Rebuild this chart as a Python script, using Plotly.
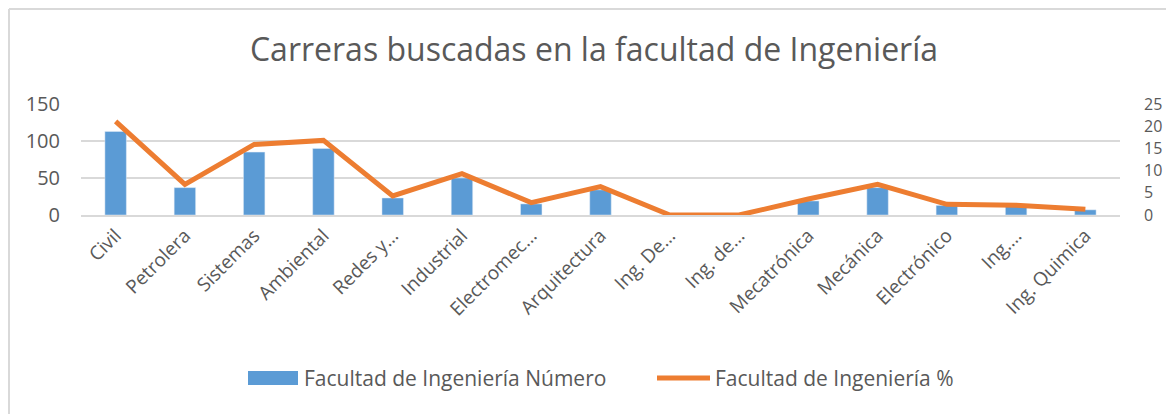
import plotly.graph_objects as go

categories = ["Civil", "Petrolera", "Sistemas", "Ambiental", "Redes y…", "Industrial",
              "Electromec…", "Arquitectura", "Ing. De…", "Ing. de…", "Mecatrónica",
              "Mecánica", "Electrónico", "Ing.…", "Ing. Quimica"]
numero = [113, 37, 85, 90, 23, 50, 15, 34, 0, 0, 19, 37, 13, 12, 7]
porcentaje = [21.1, 6.9, 15.9, 16.8, 4.3, 9.3, 2.8, 6.4, 0, 0, 3.6, 6.9, 2.4, 2.2, 1.3]

name_bar = "Facultad de Ingeniería Número"
name_line = "Facultad de Ingeniería %"
title = "Carreras buscadas en la facultad de Ingeniería"

BLUE = "#5B9BD5"
ORANGE = "#ED7D31"
GREY_TXT = "#595959"
GRID = "#D9D9D9"
FONT = "Open Sans"

fig = go.Figure()
fig.add_trace(go.Bar(x=categories, y=numero, name=name_bar, marker_color=BLUE,
                     width=0.31, yaxis="y"))
fig.add_trace(go.Scatter(x=categories, y=porcentaje, name=name_line, mode="lines",
                         line=dict(color=ORANGE, width=5), yaxis="y2"))

OFF = 8  # page body margin
W, H = 1174 - OFF, 414 - OFF
L, T, B = 81 - OFF, 104 - OFF, 199
R = W - (1120 - OFF)
pw, ph = W - L - R, H - T - B

def px(x):  # page x -> paper
    return (x - OFF - L) / pw

def py(y):  # page y -> paper
    return (H - B - (y - OFF)) / ph

shapes = [
    # chart border (left and top)
    dict(type="line", xref="paper", yref="paper", x0=px(9), x1=px(9), y0=py(9), y1=py(414),
         line=dict(color=GRID, width=2)),
    dict(type="line", xref="paper", yref="paper", x0=px(9), x1=px(1174), y0=py(9), y1=py(9),
         line=dict(color=GRID, width=2)),
    # legend symbols
    dict(type="rect", xref="paper", yref="paper", x0=px(248), x1=px(298), y0=py(371), y1=py(385),
         fillcolor=BLUE, line=dict(width=0)),
    dict(type="line", xref="paper", yref="paper", x0=px(657), x1=px(710), y0=py(378), y1=py(378),
         line=dict(color=ORANGE, width=5)),
]

annotations = [
    dict(text=name_bar, xref="paper", yref="paper", x=px(302), y=py(378), xanchor="left",
         yanchor="middle", showarrow=False, font=dict(family=FONT, size=21, color=GREY_TXT)),
    dict(text=name_line, xref="paper", yref="paper", x=px(713), y=py(378), xanchor="left",
         yanchor="middle", showarrow=False, font=dict(family=FONT, size=21, color=GREY_TXT)),
]

fig.update_layout(
    width=W, height=H,
    margin=dict(l=L, r=R, t=T, b=B, autoexpand=False),
    paper_bgcolor="white", plot_bgcolor="white",
    showlegend=False,
    title=dict(text=title, x=(594 - OFF) / W, xref="container", xanchor="center",
               y=1 - (50 - OFF) / H, yanchor="middle",
               font=dict(family=FONT, size=32, color=GREY_TXT)),
    font=dict(family=FONT, color=GREY_TXT),
    xaxis=dict(type="category", tickangle=-45, tickfont=dict(size=19, color=GREY_TXT),
               showgrid=False, showline=True, linecolor=GRID, linewidth=2, ticks="",
               range=[-0.5, len(categories) - 0.5]),
    yaxis=dict(range=[0, 150], dtick=50, tickfont=dict(size=20, color=GREY_TXT),
               showgrid=True, gridcolor=GRID, gridwidth=2, zeroline=False, showline=False,
               ticks="", ticklabelstandoff=20),
    yaxis2=dict(range=[0, 25], dtick=5, overlaying="y", side="right",
                tickfont=dict(size=16, color=GREY_TXT), showgrid=False, zeroline=False,
                showline=False, ticks="", ticklabelstandoff=23),
    shapes=shapes,
    annotations=annotations,
)

fig.write_html("out.html")
